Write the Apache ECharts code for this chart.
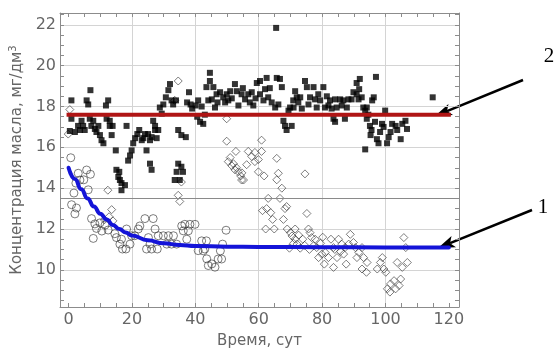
<!DOCTYPE html>
<html>
<head>
<meta charset="utf-8">
<script src="https://cdn.jsdelivr.net/npm/echarts@6/dist/echarts.min.js"></script>
<style>
  html, body { margin: 0; padding: 0; background: #fff; }
  #chart { width: 556px; height: 354px; }
</style>
</head>
<body>
<div id="chart"></div>
<script>
// axis ranges and ticks
const xRange = [-2.7, 123.2];
const yRange = [8.18, 22.58];
const xLabels = [0, 20, 40, 60, 80, 100, 120];
const xTicks = [0, 5, 10, 15, 20, 25, 30, 35, 40, 45, 50, 55, 60, 65, 70, 75, 80, 85, 90, 95, 100, 105, 110, 115, 120];
const xGrid = [20, 40, 60, 80, 100];
const yLabels = [10, 12, 14, 16, 18, 20, 22];
const yTicks = [8.5, 9, 9.5, 10, 10.5, 11, 11.5, 12, 12.5, 13, 13.5, 14, 14.5, 15, 15.5, 16, 16.5, 17, 17.5, 18, 18.5, 19, 19.5, 20, 20.5, 21, 21.5, 22, 22.5];
const yGrid = [10, 12, 14, 16, 18, 20, 22];
const refLevel = 13.5;

// measured points [day, value]
const squares = [
  [0.9,18.3],[0.9,17.4],[0.4,16.8],[2.0,16.75],[3.0,17.05],[4.1,17.3],[4.6,17.05],[3.6,16.85],[5.1,16.85],
  [5.7,18.3],[6.2,18.1],[6.9,18.8],[6.7,17.4],[7.2,17.05],[7.8,17.3],[8.3,16.9],[8.8,16.75],[9.4,17.05],
  [9.9,16.6],[10.4,16.35],[11.0,16.2],[11.8,18.05],[12.5,18.3],[12.0,17.4],[13.0,17.3],[13.0,17.05],
  [13.6,16.6],[13.9,17.05],[14.9,15.85],[15.1,14.9],[16.0,14.8],[15.7,14.55],[16.2,14.4],[16.7,14.25],
  [17.8,14.15],[16.7,13.9],[18.3,17.05],[18.8,15.35],[19.4,15.6],[19.9,15.85],[20.4,16.2],[21.0,16.45],
  [21.7,16.65],[22.3,16.85],[23.1,16.35],[23.6,16.45],[24.1,16.65],[24.6,15.85],[25.1,16.65],[25.7,16.35],
  [26.2,16.5],[26.7,17.3],[27.3,17.05],[27.3,16.85],[27.8,16.45],[28.3,16.85],[28.8,17.95],[29.4,17.65],
  [29.9,18.1],[30.7,18.45],[31.5,18.8],[32.0,19.1],[32.5,18.3],[33.0,18.1],[33.9,18.3],[34.6,16.85],
  [35.6,16.6],[37.0,16.5],[25.7,15.2],[26.2,14.9],[34.1,14.8],[34.6,15.2],[35.6,15.05],[36.1,14.8],
  [35.1,14.4],[33.5,14.4],[38.0,18.7],[37.4,18.2],[38.5,18.1],[39.0,17.9],[40.1,18.05],[40.6,17.5],
  [44.6,19.65],[44.6,19.25],[43.5,18.95],[45.7,18.95],[40.9,18.3],[41.5,17.25],[42.5,17.15],[44.1,18.3],
  [46.2,17.95],[45.2,18.35],[46.7,18.6],[47.8,18.7],[48.8,18.45],[49.4,18.2],[50.4,18.3],[51.0,18.75],
  [52.5,19.1],[53.1,18.75],[53.6,18.05],[54.6,18.6],[55.7,18.35],[56.7,18.6],[57.2,18.2],[58.3,18.05],
  [59.4,19.15],[60.4,19.25],[60.4,18.6],[62.0,18.85],[62.5,19.4],[63.0,18.45],[64.1,18.2],[65.2,17.95],
  [65.5,21.85],[65.7,19.4],[66.7,19.35],[67.3,18.95],[67.8,17.3],[68.3,17.05],[68.8,16.85],[70.4,17.05],
  [69.4,17.8],[69.9,17.95],[71.0,17.95],[71.5,18.75],[72.0,18.45],[73.1,18.45],[73.6,17.9],[74.6,19.25],
  [75.2,18.95],[76.2,18.45],[77.3,18.95],[77.8,18.35],[78.3,17.95],[79.4,18.3],[80.4,18.95],[80.9,17.95],
  [82.0,18.05],[83.0,17.9],[83.6,17.4],[42.0,18.0],[43.0,17.6],[47.0,18.2],[49.9,18.6],[51.5,18.4],
  [55.0,18.9],[57.8,18.7],[59.0,18.4],[61.5,18.3],[63.5,18.9],[66.2,18.1],[70.9,18.3],[72.5,18.2],
  [75.7,18.1],[78.8,18.6],[81.5,18.5],[82.5,18.3],
  [84.1,18.35],[84.1,17.25],[84.6,17.95],[85.7,18.35],[86.2,18.05],[86.7,18.3],[87.2,17.4],[87.8,17.95],
  [88.3,18.35],[89.3,18.35],[89.9,18.7],[90.9,18.6],[91.5,18.35],[90.9,19.15],[91.7,18.85],[91.9,19.35],
  [92.5,18.45],[93.0,17.95],[94.1,17.95],[93.6,17.8],[94.6,17.6],[94.1,17.4],[95.8,18.3],[96.3,18.45],
  [97.0,19.45],[99.9,17.8],[93.6,15.9],[95.1,17.05],[95.6,16.85],[95.3,16.6],[96.7,17.25],[97.3,16.4],
  [98.3,16.75],[98.9,17.15],[97.8,16.2],[99.4,17.0],[100.5,16.2],[101.0,16.5],[101.6,16.75],[102.1,17.15],
  [103.2,17.05],[103.7,16.85],[104.8,16.4],[105.3,17.15],[106.3,17.3],[106.8,16.9],[114.9,18.45]
];
const diamonds = [
  [0.4,17.85],[-0.1,16.65],[12.4,13.9],[13.6,12.95],[12.8,12.6],[14.0,12.4],[11.3,12.45],
  [34.6,19.25],[33.5,18.3],[35.6,14.3],[34.6,13.65],[35.1,13.35],
  [49.9,17.4],[49.9,16.3],[52.8,15.8],[50.4,15.3],[51.5,15.1],[52.5,14.9],[53.6,14.8],[54.3,14.6],
  [54.6,14.4],[55.2,14.4],[54.7,14.75],[56.2,15.15],[56.7,15.8],[57.8,15.55],[58.8,15.75],[59.9,15.4],
  [58.8,15.3],[60.9,15.8],[60.9,16.35],[59.9,14.8],[61.7,14.6],[51.0,15.5],[52.0,15.2],[53.0,15.0],
  [65.7,15.46],[66.2,14.73],[65.7,14.41],[67.3,14.0],[66.7,13.5],[63.0,13.5],[61.2,12.9],[62.5,13.0],
  [63.8,12.8],[64.4,12.47],[62.2,12.0],[64.9,12.0],[68.3,13.0],[68.8,13.1],[67.8,12.47],[69.0,12.0],
  [71.5,12.0],[70.0,11.82],[70.5,11.66],[71.5,11.5],[69.7,11.06],[73.1,11.06],[72.1,11.26],[73.9,11.5],
  [74.6,14.7],[75.2,12.76],[75.7,12.0],[76.2,11.82],[76.7,11.58],[77.8,11.5],[77.3,11.18],[78.3,11.09],
  [78.9,10.6],[79.9,10.77],[81.0,10.85],[80.7,10.28],[82.0,10.6],[82.8,11.5],[83.6,11.09],[83.6,10.12],
  [84.7,10.6],[85.2,11.5],[86.2,11.26],[86.8,10.77],[87.6,10.28],[88.9,11.74],[88.4,11.26],[89.9,11.34],
  [90.5,11.09],[91.0,10.6],[91.6,10.85],[92.6,11.09],[93.1,10.6],[92.6,10.04],[94.0,9.88],[94.2,10.36],
  [97.4,10.04],[98.4,10.36],[99.0,10.6],[99.5,10.04],[100.1,9.88],[100.6,9.07],[101.4,8.91],[101.6,9.31],
  [102.7,9.47],[103.2,9.07],[104.3,9.23],[104.8,9.55],[103.7,10.36],[105.3,10.12],[106.9,10.36],
  [105.8,11.58],[106.4,11.09],[71.0,11.3],[72.6,11.7],[74.5,11.2],[76.0,11.0],[79.5,11.3],[80.2,11.6],
  [84.0,11.0],[85.8,10.9],[87.3,11.1]
];
const circles = [
  [0.7,15.49],[3.05,14.73],[5.7,14.89],[6.9,14.68],[4.8,14.41],[2.3,14.25],[6.2,13.92],[1.7,13.76],
  [3.6,14.4],[0.95,13.19],[2.5,13.03],[2.0,12.74],[7.25,12.51],[8.8,12.03],[7.8,11.54],[8.3,12.25],
  [9.9,12.3],[11.5,12.19],[10.5,11.9],[12.5,11.95],[14.6,11.77],[15.1,11.58],[16.2,11.26],[17.0,11.02],
  [18.1,11.02],[19.4,11.26],[16.7,11.5],[18.3,12.0],[19.9,11.67],[20.9,11.67],[22.0,12.0],[22.5,12.15],
  [24.1,12.51],[26.7,12.51],[27.3,12.0],[25.2,11.58],[25.7,11.26],[24.6,11.02],[26.2,11.02],[28.0,11.02],
  [28.3,11.67],[29.9,11.67],[31.5,11.67],[33.1,11.67],[31.0,11.26],[32.5,11.26],[34.1,11.26],[35.7,12.15],
  [36.7,12.23],[38.3,12.23],[39.9,12.23],[36.2,11.91],[37.8,11.91],[37.3,11.5],[40.9,10.94],[42.0,11.42],
  [43.0,11.02],[43.6,10.54],[44.1,10.21],[43.5,11.42],[42.5,10.93],[45.2,10.29],[46.2,10.13],[47.2,10.53],
  [48.3,10.53],[47.9,10.93],[48.6,11.26],[49.7,11.94]
];

// line 2: mean level, line 1: fitted decay
const meanX = [0, 120];
const meanY = [17.6, 17.6];
const fitX = [0, 2, 4, 6, 8, 10, 12, 14, 16, 18, 20, 25, 30, 35, 40, 50, 60, 80, 100, 120];
const fitY = [15.0, 14.45, 13.95, 13.5, 13.1, 12.75, 12.47, 12.2, 12.0, 11.83, 11.68, 11.45, 11.3, 11.22, 11.17, 11.13, 11.12, 11.11, 11.1, 11.1];

const font = 'DejaVu Sans';
const frameColor = '#8c8c8c';
const textColor = '#666';

function zip(xs, ys) { return xs.map((x, i) => [x, ys[i]]); }

// arrow from (x1,y1) to tip (x2,y2)
function arrow(x1, y1, x2, y2) {
  const dx = x2 - x1, dy = y2 - y1, len = Math.sqrt(dx * dx + dy * dy);
  const ux = dx / len, uy = dy / len, nx = -uy, ny = ux;
  const hl = 17, hw = 6;
  const bx = x2 - ux * hl, by = y2 - uy * hl;
  const mx = x2 - ux * (hl - 4), my = y2 - uy * (hl - 4);
  return [
    { type: 'line', shape: { x1: x1, y1: y1, x2: mx, y2: my }, style: { stroke: '#000', lineWidth: 2.5 } },
    { type: 'polygon', shape: { points: [[x2, y2], [bx + nx * hw, by + ny * hw], [mx, my], [bx - nx * hw, by - ny * hw]] }, style: { fill: '#000' } }
  ];
}

function xAxis(pos, opts) {
  return Object.assign({
    type: 'value', min: xRange[0], max: xRange[1], position: pos,
    axisLine: { show: true, onZero: false, lineStyle: { color: frameColor } },
    axisTick: { show: true, inside: true, length: 4, customValues: xTicks, lineStyle: { color: frameColor } },
    axisLabel: { show: false },
    splitLine: { show: false }
  }, opts);
}
function yAxis(pos, opts) {
  return Object.assign({
    type: 'value', min: yRange[0], max: yRange[1], position: pos,
    axisLine: { show: true, onZero: false, lineStyle: { color: frameColor } },
    axisTick: { show: true, inside: true, length: 4, customValues: yTicks, lineStyle: { color: frameColor } },
    axisLabel: { show: false },
    splitLine: { show: false }
  }, opts);
}

const chart = echarts.init(document.getElementById('chart'));
chart.setOption({
  animation: false,
  grid: { left: 60, right: 97, top: 13, bottom: 44 },
  xAxis: [
    xAxis('bottom', {
      name: 'Время, сут', nameLocation: 'middle', nameGap: 27,
      nameTextStyle: { color: textColor, fontFamily: font, fontSize: 15 },
      axisLabel: { show: true, customValues: xLabels, margin: 5, color: textColor, fontFamily: font, fontSize: 16 }
    }),
    xAxis('top', {}),
    xAxis('bottom', {
      axisLine: { show: false },
      axisTick: { show: false, customValues: xGrid },
      splitLine: { show: true, lineStyle: { color: '#d4d4d4', width: 1 } }
    })
  ],
  yAxis: [
    yAxis('left', {
      name: '{t|Концентрация масла, мг/дм}{s|3}', nameLocation: 'middle', nameGap: 30, nameRotate: 90,
      nameTextStyle: {
        color: textColor, fontFamily: font, fontSize: 15,
        rich: {
          t: { color: textColor, fontFamily: font, fontSize: 15, lineHeight: 18 },
          s: { color: textColor, fontFamily: font, fontSize: 10, lineHeight: 18, verticalAlign: 'top' }
        }
      },
      axisLabel: { show: true, customValues: yLabels, margin: 4, color: textColor, fontFamily: font, fontSize: 16 }
    }),
    yAxis('right', {}),
    yAxis('left', {
      axisLine: { show: false },
      axisTick: { show: false, customValues: yGrid },
      splitLine: { show: true, lineStyle: { color: '#d4d4d4', width: 1 } }
    })
  ],
  series: [
    {
      type: 'scatter', data: circles, symbol: 'circle', symbolSize: 8,
      itemStyle: { color: 'rgba(0,0,0,0)', borderColor: '#333', borderWidth: 0.8 },
      markLine: {
        silent: true, symbol: 'none', label: { show: false },
        lineStyle: { color: '#8a8a8a', width: 1, type: 'solid' },
        data: [{ yAxis: refLevel }]
      }
    },
    {
      type: 'scatter', data: diamonds, symbol: 'diamond', symbolSize: 8,
      itemStyle: { color: 'rgba(0,0,0,0)', borderColor: '#333', borderWidth: 0.8 }
    },
    {
      type: 'scatter', data: squares, symbol: 'rect', symbolSize: 6,
      itemStyle: { color: '#000' }
    },
    {
      type: 'line', data: zip(meanX, meanY), showSymbol: false, symbol: 'none',
      lineStyle: { color: '#b01515', width: 4, cap: 'square' }, z: 5
    },
    {
      type: 'line', data: zip(fitX, fitY), showSymbol: false, symbol: 'none', smooth: true, smoothMonotone: 'x',
      lineStyle: { color: '#1414d8', width: 4, cap: 'round' }, z: 5
    }
  ],
  graphic: [].concat(
    arrow(523, 80, 435, 116),
    arrow(532, 210, 438, 248),
    [
      { type: 'text', x: 549, y: 56, style: { text: '2', font: '21px "Liberation Serif"', fill: '#000', align: 'center', verticalAlign: 'middle' } },
      { type: 'text', x: 543, y: 207, style: { text: '1', font: '21px "Liberation Serif"', fill: '#000', align: 'center', verticalAlign: 'middle' } }
    ]
  )
});
</script>
</body>
</html>
